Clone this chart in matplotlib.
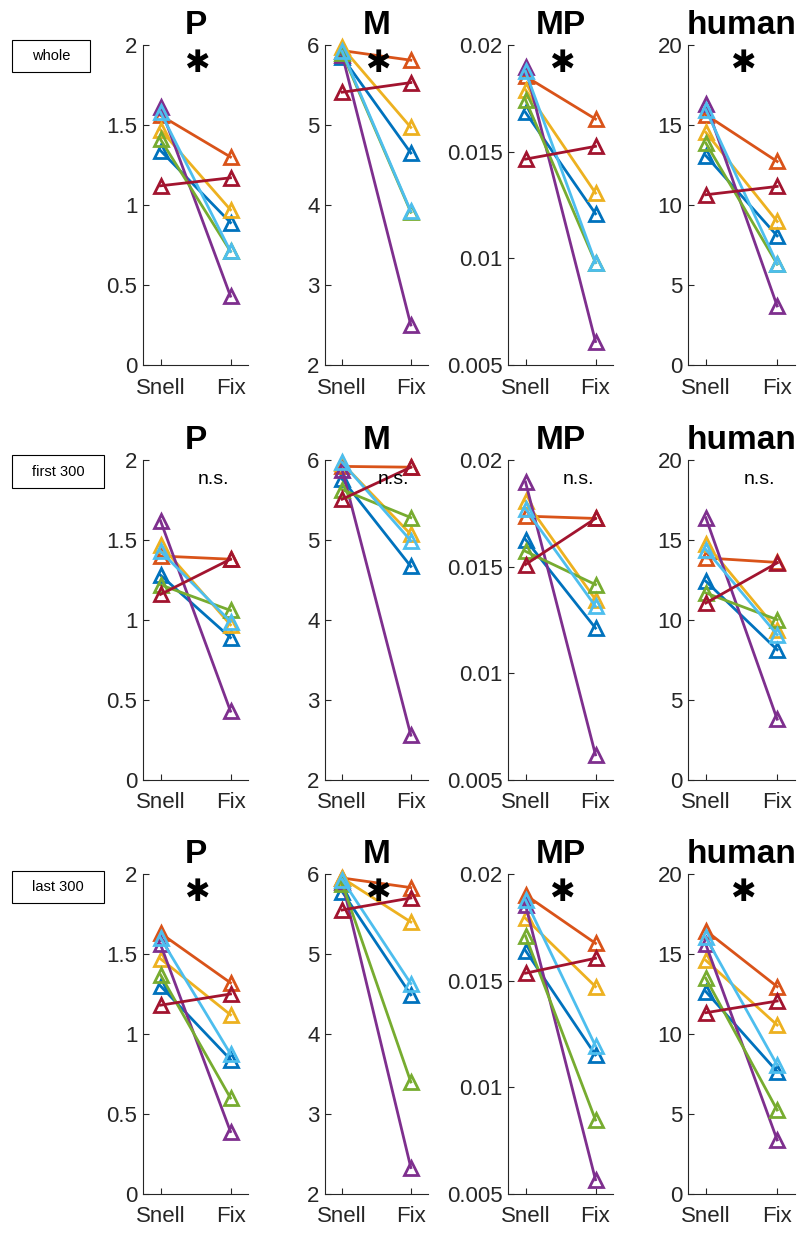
import matplotlib
matplotlib.use("Agg")
import matplotlib.pyplot as plt
from matplotlib.patches import Rectangle

plt.rcParams['font.family'] = ['Liberation Sans', 'DejaVu Sans']

# MATLAB default line colours, in plotting order
colors = ['#0072BD', '#D95319', '#EDB120', '#7E2F8E', '#77AC30', '#4DBEEE', '#A2142F']

conds = ['Snell', 'Fix']
measures = ['P', 'M', 'MP', 'human']
row_names = ['whole', 'first 300', 'last 300']
marks = [['*', '*', '*', '*'],
         ['n.s.', 'n.s.', 'n.s.', 'n.s.'],
         ['*', '*', '*', '*']]

ylims = {'P': (0, 2), 'M': (2, 6), 'MP': (0.005, 0.02), 'human': (0, 20)}
yticks = {'P': [0, 0.5, 1, 1.5, 2], 'M': [2, 3, 4, 5, 6],
          'MP': [0.005, 0.01, 0.015, 0.02], 'human': [0, 5, 10, 15, 20]}
yticklabels = {'P': ['0', '0.5', '1', '1.5', '2'], 'M': ['2', '3', '4', '5', '6'],
               'MP': ['0.005', '0.01', '0.015', '0.02'], 'human': ['0', '5', '10', '15', '20']}

# each series: [Snell values of 7 subjects], [Fix values of 7 subjects]
# subject order: blue, orange, yellow, purple, green, cyan, dark red
whole_P_snell = [1.34, 1.56, 1.47, 1.61, 1.41, 1.58, 1.12]
whole_P_fix = [0.89, 1.30, 0.97, 0.43, 0.71, 0.71, 1.17]
whole_M_snell = [5.85, 5.93, 5.97, 5.88, 5.90, 5.92, 5.41]
whole_M_fix = [4.65, 5.81, 4.97, 2.50, 3.91, 3.92, 5.53]
whole_MP_snell = [0.01684, 0.01853, 0.0179, 0.01897, 0.01743, 0.01876, 0.01465]
whole_MP_fix = [0.01209, 0.01653, 0.01306, 0.0061, 0.0098, 0.0098, 0.01525]
whole_H_snell = [13.08, 15.64, 14.54, 16.33, 13.87, 15.95, 10.64]
whole_H_fix = [8.07, 12.72, 8.97, 3.69, 6.3, 6.32, 11.16]

first_P_snell = [1.28, 1.40, 1.47, 1.62, 1.22, 1.43, 1.16]
first_P_fix = [0.89, 1.38, 0.97, 0.43, 1.06, 0.99, 1.38]
first_M_snell = [5.76, 5.92, 5.96, 5.88, 5.63, 5.97, 5.51]
first_M_fix = [4.67, 5.91, 5.07, 2.56, 5.28, 4.99, 5.91]
first_MP_snell = [0.01627, 0.01737, 0.01807, 0.01897, 0.01572, 0.01771, 0.0151]
first_MP_fix = [0.01212, 0.01726, 0.01346, 0.00618, 0.01416, 0.01314, 0.01726]
first_H_snell = [12.42, 13.88, 14.78, 16.39, 11.69, 14.4, 11.06]
first_H_fix = [8.14, 13.6, 9.4, 3.8, 10.02, 9.08, 13.57]

last_P_snell = [1.30, 1.63, 1.47, 1.56, 1.37, 1.60, 1.18]
last_P_fix = [0.84, 1.32, 1.12, 0.39, 0.60, 0.875, 1.25]
last_M_snell = [5.78, 5.95, 5.95, 5.90, 5.88, 5.93, 5.55]
last_M_fix = [4.49, 5.83, 5.40, 2.33, 3.40, 4.63, 5.70]
last_MP_snell = [0.01641, 0.01902, 0.01792, 0.01855, 0.0171, 0.01878, 0.01535]
last_MP_fix = [0.01152, 0.01675, 0.01472, 0.00567, 0.00847, 0.01194, 0.01605]
last_H_snell = [12.65, 16.46, 14.6, 15.6, 13.48, 16.04, 11.33]
last_H_fix = [7.65, 12.96, 10.56, 3.38, 5.25, 8.06, 12.06]

data = [
    [(whole_P_snell, whole_P_fix), (whole_M_snell, whole_M_fix),
     (whole_MP_snell, whole_MP_fix), (whole_H_snell, whole_H_fix)],
    [(first_P_snell, first_P_fix), (first_M_snell, first_M_fix),
     (first_MP_snell, first_MP_fix), (first_H_snell, first_H_fix)],
    [(last_P_snell, last_P_fix), (last_M_snell, last_M_fix),
     (last_MP_snell, last_MP_fix), (last_H_snell, last_H_fix)],
]

W, H = 799, 1235
fig = plt.figure(figsize=(W / 100, H / 100), dpi=100)

col_px = [(143, 248), (325, 428), (508, 613), (688, 795)]
row_px = [(45, 365), (460, 780), (874, 1194)]
box_px = [(12, 40, 90, 72), (12, 455, 104, 488), (12, 871, 104, 903)]

axc = '#262626'

for r in range(3):
    top, bot = row_px[r]
    for c in range(4):
        left, right = col_px[c]
        ax = fig.add_axes([left / W, 1 - bot / H, (right - left) / W, (bot - top) / H])
        snell, fix = data[r][c]
        for k in range(7):
            ax.plot([1, 2], [snell[k], fix[k]], '-^', color=colors[k], lw=2,
                    ms=10.5, mew=2, mfc='none', clip_on=False)
        m = measures[c]
        ax.set_xlim(0.75, 2.25)
        ax.set_ylim(*ylims[m])
        ax.set_xticks([1, 2])
        ax.set_xticklabels(conds)
        ax.set_yticks(yticks[m])
        ax.set_yticklabels(yticklabels[m])
        ax.spines['top'].set_visible(False)
        ax.spines['right'].set_visible(False)
        for s in ['left', 'bottom']:
            ax.spines[s].set_color(axc)
            ax.spines[s].set_linewidth(0.8)
        ax.tick_params(direction='in', length=4, width=0.8, colors=axc,
                       labelsize=16, pad=4)
        ax.tick_params(axis='x', pad=9)
        ax.set_title(m, fontsize=24, fontweight='bold', pad=8)

        if marks[r][c] == '*':
            ax.annotate('\u2731', xy=(1.52, 1.0), xycoords=('data', 'axes fraction'),
                        xytext=(0, -13), textcoords='offset points',
                        ha='center', va='center', fontsize=22,
                        family=['DejaVu Sans'])
        else:
            ax.text(1.75, 0.94, marks[r][c], transform=ax.get_xaxis_transform(),
                    ha='center', va='center', fontsize=14)

    x0, y0, x1, y1 = box_px[r]
    fig.patches.append(Rectangle((x0 / W, 1 - y1 / H), (x1 - x0) / W, (y1 - y0) / H,
                                 transform=fig.transFigure, fill=False,
                                 edgecolor='black', lw=0.8))
    fig.text((x0 + x1) / 2 / W, 1 - (y0 + y1) / 2 / H, row_names[r],
             ha='center', va='center', fontsize=10.5)

fig.savefig('out.png', dpi=100)
